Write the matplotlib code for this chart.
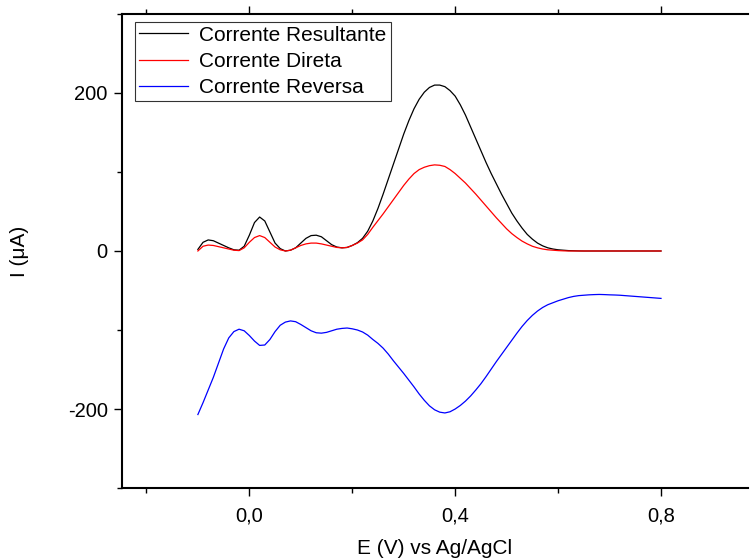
import matplotlib
matplotlib.use('Agg')
import matplotlib.pyplot as plt
import numpy as np
from matplotlib.ticker import FixedLocator, FuncFormatter

plt.rcParams['font.family'] = ['Liberation Sans', 'DejaVu Sans']

# potencial (V vs Ag/AgCl), passo de 10 mV
E = np.round(np.arange(-10, 81) / 100.0, 2)

# correntes (uA)
i_resultante = [2, 11, 14, 13, 10, 7, 4, 1.5, 1, 6,
                20, 36, 43, 38, 24, 10, 3, 0, 1, 4,
                10, 16, 19.5, 20, 18, 13, 8, 5, 4, 4.5,
                7, 10.5, 16, 25, 38, 54, 72, 91, 110, 129,
                148, 165, 180, 192, 201, 207, 210, 210, 208, 203,
                196, 185, 172, 157, 142, 127, 112, 98, 85, 72,
                60, 48, 38, 29, 21, 15, 10, 6.5, 4, 2.5,
                1.5, 1, 0.5, 0.3, 0.1, 0, 0, 0, 0, 0,
                0, 0, 0, 0, 0, 0, 0, 0, 0, 0,
                0]

i_direta = [0, 6, 7.5, 7, 5.5, 4, 2.5, 1, 0.5, 4,
            11, 17, 19.5, 17, 11, 5, 1.5, 0, 1, 4,
            7, 9, 10, 10, 9, 7.5, 6, 4.5, 4, 4.5,
            7, 10, 14, 21, 30, 38.5, 47, 56, 65, 74,
            83, 91, 98, 103, 106, 108, 109, 108.5, 107, 103,
            98, 92, 86, 79, 72, 64.5, 57, 49.5, 42, 35,
            28, 22, 17, 12.5, 9, 6, 4, 2.5, 1.5, 1,
            0.5, 0.2, 0, 0, 0, 0, 0, 0, 0, 0,
            0, 0, 0, 0, 0, 0, 0, 0, 0, 0,
            0]

i_reversa = [-207, -192, -176, -160, -142, -124, -110, -102, -99, -101,
             -107, -114, -119.5, -119, -112, -102, -94, -90, -88.5, -89.5,
             -93, -97, -101, -103.5, -104, -103, -101, -99, -98, -97.5,
             -98.5, -100, -102.5, -106.5, -112, -117, -123, -130.5, -139, -147,
             -155, -163.5, -172, -181, -189, -196, -201, -204, -205, -203.5,
             -200, -195.5, -190, -183.5, -176, -168, -159, -149.5, -140, -131,
             -122, -113, -104, -95.5, -88, -81.5, -76, -71.5, -68, -65.5,
             -63, -61, -59, -57.5, -56.5, -56, -55.5, -55.2, -55, -55.2,
             -55.5, -55.7, -56, -56.5, -57, -57.5, -58, -58.5, -59, -59.5,
             -60]

fig = plt.figure(figsize=(7.5, 5.59), dpi=100)
ax = fig.add_axes([0.1623, 0.127, 0.835, 0.848])

ax.plot(E, i_resultante, color='black', lw=0.9, label='Corrente Resultante')
ax.plot(E, i_direta, color='red', lw=0.9, label='Corrente Direta')
ax.plot(E, i_reversa, color='blue', lw=0.9, label='Corrente Reversa')

ax.set_xlim(-0.248, 0.969)
ax.set_ylim(-300, 300)

ax.xaxis.set_major_locator(FixedLocator([0.0, 0.4, 0.8]))
ax.xaxis.set_minor_locator(FixedLocator([-0.2, 0.2, 0.6]))
ax.yaxis.set_major_locator(FixedLocator([-200, 0, 200]))
ax.yaxis.set_minor_locator(FixedLocator([-300, -100, 100, 300]))
ax.xaxis.set_major_formatter(FuncFormatter(lambda v, p: f'{v:.1f}'.replace('.', ',')))
ax.yaxis.set_major_formatter(FuncFormatter(lambda v, p: f'{v:.0f}'))

for s in ['left', 'bottom', 'top']:
    ax.spines[s].set_linewidth(1.5)
ax.spines['right'].set_visible(False)

ax.tick_params(axis='both', which='major', direction='out', length=6, width=1,
               labelsize=14.5)
ax.tick_params(axis='both', which='minor', direction='out', length=3.5, width=1)
ax.tick_params(axis='x', which='major', pad=7)
ax.tick_params(axis='y', which='major', pad=4)
ax.tick_params(axis='x', which='both', top=True, labeltop=False)

ax.set_xlabel('E (V) vs Ag/AgCl', fontsize=15, labelpad=10)
ax.set_ylabel('I (μA)', fontsize=15, labelpad=28)

leg = ax.legend(loc='upper left', bbox_to_anchor=(0.021, 0.984), borderaxespad=0,
                fontsize=15, frameon=True, fancybox=False, handlelength=2.35,
                handletextpad=0.55, labelspacing=0.35, borderpad=0.2)
leg.get_frame().set_edgecolor('black')
leg.get_frame().set_linewidth(0.8)

fig.savefig('out.png', dpi=100)
